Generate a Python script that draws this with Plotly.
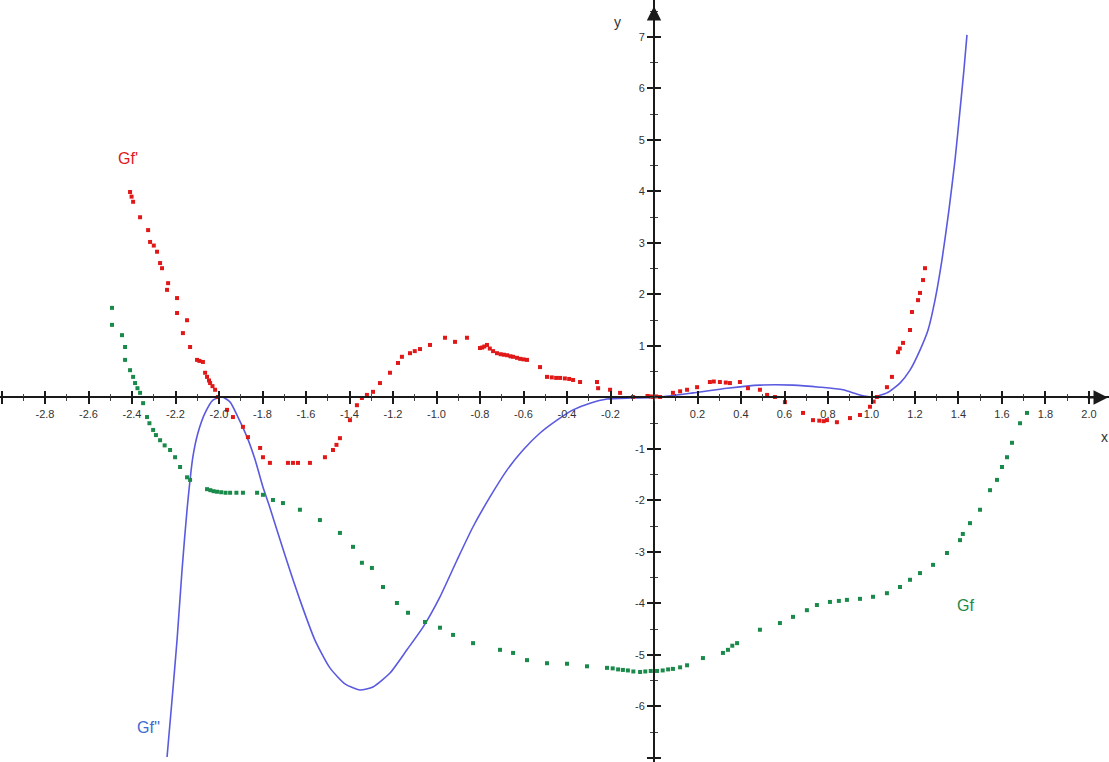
import plotly.graph_objects as go

# ---------------- data ----------------
# Gf' (red, dotted)
red_x = [-2.409, -2.402, -2.395, -2.363, -2.326, -2.317, -2.300, -2.285, -2.271, -2.262,
         -2.234, -2.239, -2.193, -2.193, -2.147, -2.166, -2.133, -2.101, -2.090, -2.074,
         -2.064, -2.055, -2.046, -2.041, -2.030, -2.018, -2.005, -1.963, -1.936, -1.890,
         -1.867, -1.811, -1.798, -1.766, -1.683, -1.660, -1.637, -1.582, -1.513, -1.476,
         -1.460, -1.444, -1.398, -1.366, -1.343, -1.320, -1.292, -1.260, -1.214, -1.177,
         -1.159, -1.122, -1.100, -1.076, -1.030, -0.961, -0.915, -0.860, -0.800, -0.790,
         -0.780, -0.768, -0.755, -0.740, -0.722, -0.705, -0.690, -0.675, -0.660, -0.648,
         -0.630, -0.615, -0.600, -0.584, -0.524, -0.492, -0.470, -0.450, -0.432, -0.410,
         -0.390, -0.372, -0.340, -0.262, -0.257, -0.202, -0.156, -0.097, -0.030, -0.015,
         -0.005, 0.010, 0.028, 0.087, 0.120, 0.152, 0.198, 0.257, 0.275, 0.303,
         0.330, 0.349, 0.395, 0.432, 0.487, 0.520, 0.556, 0.602, 0.685, 0.731,
         0.760, 0.780, 0.795, 0.841, 0.901, 0.947, 0.993, 1.010, 1.025, 1.071,
         1.094, 1.122, 1.130, 1.145, 1.177, 1.186, 1.214, 1.223, 1.237, 1.246]
red_y = [3.99, 3.90, 3.80, 3.50, 3.25, 3.02, 2.95, 2.83, 2.61, 2.51,
         2.22, 2.09, 1.93, 1.64, 1.50, 1.25, 0.98, 0.73, 0.71, 0.69,
         0.48, 0.40, 0.33, 0.28, 0.22, 0.15, 0.01, -0.24, -0.38, -0.57,
         -0.77, -0.98, -1.16, -1.27, -1.27, -1.27, -1.27, -1.27, -1.16, -1.02,
         -0.92, -0.79, -0.44, -0.15, -0.01, 0.05, 0.11, 0.28, 0.48, 0.67,
         0.79, 0.86, 0.90, 0.94, 1.02, 1.16, 1.08, 1.16, 0.96, 0.97,
         0.99, 1.02, 0.95, 0.90, 0.86, 0.84, 0.83, 0.82, 0.80, 0.79,
         0.77, 0.75, 0.74, 0.73, 0.59, 0.40, 0.39, 0.38, 0.38, 0.37,
         0.36, 0.34, 0.30, 0.30, 0.18, 0.15, 0.09, 0.01, 0.03, 0.02,
         0.01, 0.02, 0.01, 0.09, 0.12, 0.15, 0.20, 0.30, 0.31, 0.30,
         0.29, 0.28, 0.30, 0.18, 0.15, 0.05, 0.01, -0.09, -0.30, -0.44,
         -0.45, -0.46, -0.44, -0.48, -0.40, -0.34, -0.18, -0.08, 0.01, 0.20,
         0.40, 0.88, 0.95, 1.06, 1.31, 1.66, 1.89, 2.03, 2.28, 2.51]

# Gf (green, dotted)
green_x = [-2.492, -2.492, -2.446, -2.432, -2.432, -2.409, -2.395, -2.386, -2.375, -2.363,
           -2.349, -2.331, -2.320, -2.303, -2.290, -2.271, -2.250, -2.225, -2.202, -2.179,
           -2.147, -2.133, -2.055, -2.040, -2.025, -2.009, -1.990, -1.970, -1.949, -1.920,
           -1.890, -1.825, -1.798, -1.752, -1.706, -1.628, -1.536, -1.444, -1.384, -1.343,
           -1.297, -1.246, -1.182, -1.131, -1.053, -0.984, -0.924, -0.832, -0.708, -0.648,
           -0.584, -0.492, -0.400, -0.308, -0.216, -0.190, -0.165, -0.143, -0.120, -0.095,
           -0.064, -0.040, -0.015, 0.014, 0.040, 0.065, 0.087, 0.120, 0.152, 0.225,
           0.317, 0.340, 0.360, 0.382, 0.487, 0.579, 0.639, 0.703, 0.749, 0.809,
           0.850, 0.887, 0.947, 1.007, 1.071, 1.131, 1.177, 1.223, 1.283, 1.347,
           1.407, 1.420, 1.453, 1.499, 1.545, 1.577, 1.600, 1.623, 1.646, 1.683,
           1.715]
green_y = [1.74, 1.41, 1.21, 0.98, 0.73, 0.53, 0.40, 0.28, 0.18, 0.09,
           -0.11, -0.38, -0.50, -0.63, -0.73, -0.83, -0.93, -1.02, -1.16, -1.35,
           -1.55, -1.60, -1.78, -1.80, -1.82, -1.83, -1.84, -1.85, -1.85, -1.85,
           -1.85, -1.85, -1.89, -1.99, -2.05, -2.18, -2.38, -2.63, -2.90, -3.21,
           -3.31, -3.68, -3.99, -4.18, -4.36, -4.47, -4.61, -4.77, -4.90, -4.96,
           -5.10, -5.16, -5.17, -5.22, -5.25, -5.26, -5.28, -5.29, -5.30, -5.32,
           -5.33, -5.32, -5.31, -5.31, -5.30, -5.28, -5.27, -5.24, -5.20, -5.06,
           -4.96, -4.90, -4.82, -4.77, -4.51, -4.38, -4.26, -4.13, -4.03, -3.97,
           -3.95, -3.93, -3.91, -3.87, -3.80, -3.68, -3.54, -3.41, -3.25, -3.02,
           -2.77, -2.65, -2.44, -2.18, -1.80, -1.60, -1.35, -1.16, -0.88, -0.50,
           -0.30]

# Gf'' (blue, solid line)
blue_x = [-2.239, -2.216, -2.193, -2.170, -2.147, -2.120, -2.097, -2.064, -2.028, -1.986,
          -1.949, -1.913, -1.871, -1.834, -1.798, -1.766, -1.697, -1.628, -1.559, -1.490,
          -1.421, -1.352, -1.292, -1.214, -1.136, -1.062, -0.984, -0.906, -0.832, -0.754,
          -0.676, -0.602, -0.524, -0.446, -0.372, -0.294, -0.216, -0.110, 0.0, 0.179,
          0.336, 0.487, 0.639, 0.763, 0.869, 0.947, 1.007, 1.071, 1.131, 1.177,
          1.223, 1.260, 1.292, 1.324, 1.356, 1.384, 1.407, 1.425, 1.439]
blue_y = [-6.98, -5.87, -4.71, -3.35, -2.18, -1.15, -0.69, -0.30, -0.05, 0.01,
          -0.09, -0.38, -0.77, -1.21, -1.74, -2.14, -3.06, -3.93, -4.71, -5.25,
          -5.56, -5.68, -5.62, -5.35, -4.90, -4.46, -3.87, -3.16, -2.51, -1.93,
          -1.41, -1.02, -0.69, -0.44, -0.24, -0.11, -0.03, -0.01, 0.0, 0.09,
          0.18, 0.24, 0.24, 0.20, 0.15, 0.05, 0.01, 0.09, 0.28, 0.53,
          0.92, 1.31, 1.89, 2.67, 3.64, 4.61, 5.58, 6.36, 7.04]

# tick labels
x_tick_vals = [-3.0, -2.8, -2.6, -2.4, -2.2, -2.0, -1.8, -1.6, -1.4, -1.2, -1.0, -0.8, -0.6,
               -0.4, -0.2, 0.2, 0.4, 0.6, 0.8, 1.0, 1.2, 1.4, 1.6, 1.8, 2.0]
x_tick_text = ["-3.0", "-2.8", "-2.6", "-2.4", "-2.2", "-2.0", "-1.8", "-1.6", "-1.4", "-1.2",
               "-1.0", "-0.8", "-0.6", "-0.4", "-0.2", "0.2", "0.4", "0.6", "0.8", "1.0",
               "1.2", "1.4", "1.6", "1.8", "2.0"]
y_tick_vals = [-7, -6, -5, -4, -3, -2, -1, 1, 2, 3, 4, 5, 6, 7]
y_tick_text = ["-7", "-6", "-5", "-4", "-3", "-2", "-1", "1", "2", "3", "4", "5", "6", "7"]

# ---------------- figure ----------------
W, H = 1109, 762
X_RANGE = [-3.007, 2.092]
Y_RANGE = [-7.078, 7.718]
xpos = (0 - Y_RANGE[0]) / (Y_RANGE[1] - Y_RANGE[0])   # paper fraction of y=0
ypos = (0 - X_RANGE[0]) / (X_RANGE[1] - X_RANGE[0])   # paper fraction of x=0

RED = "#e01818"
GREEN = "#1a8a4a"
BLUE = "#5a5ae0"
AXC = "#1a1a1a"
FONT = "Liberation Sans, Arial, sans-serif"

fig = go.Figure()
fig.add_trace(go.Scatter(x=blue_x, y=blue_y, mode="lines",
                         line=dict(color=BLUE, width=1.6, shape="spline", smoothing=0.6),
                         name="Gf''", hoverinfo="skip"))
fig.add_trace(go.Scatter(x=green_x, y=green_y, mode="markers",
                         marker=dict(color=GREEN, size=4, symbol="square", line=dict(width=0)),
                         name="Gf", hoverinfo="skip"))
fig.add_trace(go.Scatter(x=red_x, y=red_y, mode="markers",
                         marker=dict(color=RED, size=4, symbol="square", line=dict(width=0)),
                         name="Gf'", hoverinfo="skip"))
# empty traces so the overlay axes (ticks on the other side) are drawn
fig.add_trace(go.Scatter(x=[], y=[], xaxis="x2", yaxis="y", showlegend=False))
fig.add_trace(go.Scatter(x=[], y=[], xaxis="x", yaxis="y2", showlegend=False))

tickfont = dict(family=FONT, size=11, color="#333333")

fig.update_layout(
    width=W, height=H,
    margin=dict(l=0, r=0, t=0, b=0),
    paper_bgcolor="white", plot_bgcolor="white",
    showlegend=False,
    xaxis=dict(range=X_RANGE, anchor="free", position=xpos,
               showgrid=False, zeroline=False, showline=True, linecolor=AXC, linewidth=1.8,
               tickmode="array", tickvals=x_tick_vals, ticktext=x_tick_text,
               ticks="outside", ticklen=6, tickwidth=1.5, tickcolor=AXC,
               minor=dict(dtick=0.1, tick0=0, ticks="outside", ticklen=3, tickwidth=1.2, tickcolor="#444",
                          showgrid=False),
               tickfont=tickfont, fixedrange=True),
    xaxis2=dict(range=X_RANGE, overlaying="x", matches="x", anchor="free", position=xpos,
                showgrid=False, zeroline=False, showline=False, showticklabels=False,
                tickmode="array", tickvals=x_tick_vals,
                ticks="inside", ticklen=6, tickwidth=1.5, tickcolor=AXC,
                minor=dict(dtick=0.1, tick0=0, ticks="inside", ticklen=3, tickwidth=1.2, tickcolor="#444",
                           showgrid=False)),
    yaxis=dict(range=Y_RANGE, anchor="free", position=ypos,
               showgrid=False, zeroline=False, showline=True, linecolor=AXC, linewidth=1.8,
               tickmode="array", tickvals=y_tick_vals, ticktext=y_tick_text,
               ticks="outside", ticklen=6, tickwidth=1.5, tickcolor=AXC,
               minor=dict(dtick=0.5, tick0=0, ticks="outside", ticklen=3, tickwidth=1.2, tickcolor="#444",
                          showgrid=False),
               tickfont=tickfont, fixedrange=True),
    yaxis2=dict(range=Y_RANGE, overlaying="y", matches="y", anchor="free", position=ypos,
                showgrid=False, zeroline=False, showline=False, showticklabels=False,
                tickmode="array", tickvals=y_tick_vals,
                ticks="inside", ticklen=6, tickwidth=1.5, tickcolor=AXC,
                minor=dict(dtick=0.5, tick0=0, ticks="inside", ticklen=3, tickwidth=1.2, tickcolor="#444",
                           showgrid=False)),
)

# axis arrows
fig.add_annotation(x=X_RANGE[1] - 0.005, y=0, ax=-22, ay=0, text="", showarrow=True,
                   arrowhead=2, arrowsize=1.6, arrowwidth=1.8, arrowcolor=AXC)
fig.add_annotation(x=0, y=Y_RANGE[1] - 0.12, ax=0, ay=22, text="", showarrow=True,
                   arrowhead=2, arrowsize=1.6, arrowwidth=1.8, arrowcolor=AXC)

# axis names
fig.add_annotation(x=-0.17, y=7.29, text="y", showarrow=False,
                   font=dict(family=FONT, size=14, color="#333333"))
fig.add_annotation(x=2.07, y=-0.77, text="x", showarrow=False,
                   font=dict(family=FONT, size=14, color="#333333"))

# curve names
fig.add_annotation(x=-2.418, y=4.65, text="Gf'", showarrow=False,
                   font=dict(family=FONT, size=16, color=RED))
fig.add_annotation(x=1.43, y=-4.03, text="Gf", showarrow=False,
                   font=dict(family=FONT, size=16, color=GREEN))
fig.add_annotation(x=-2.326, y=-6.40, text="Gf''", showarrow=False,
                   font=dict(family=FONT, size=16, color="#3a6ad0"))

fig.write_html("out.html", post_script="document.body.style.margin='0';",
               config={"displayModeBar": False})
